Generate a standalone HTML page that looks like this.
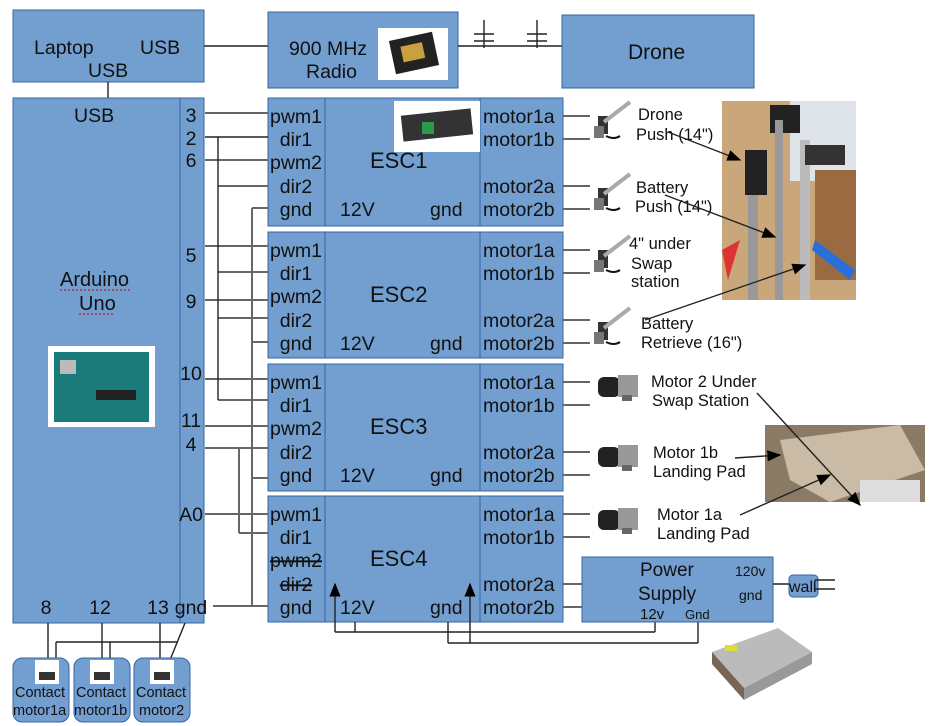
<!DOCTYPE html>
<html><head><meta charset="utf-8"><style>
html,body{margin:0;padding:0;background:#fff;width:933px;height:726px;overflow:hidden}
svg{display:block;font-family:"Liberation Sans",sans-serif}
.box{fill:#729fcf;stroke:#3465a4;stroke-width:1}
.t{font-size:19.5px;fill:#111}
.s{font-size:16.5px;fill:#111}
.w{stroke:#222;stroke-width:1.4;fill:none}
.g{stroke:#666;stroke-width:2;fill:none}
.sq{stroke:#c00;stroke-width:1;fill:none;stroke-dasharray:2 2}
</style></head><body>
<svg width="933" height="726" viewBox="0 0 933 726">
<defs>
<marker id="ar" markerWidth="10" markerHeight="10" refX="9" refY="5" orient="auto"><path d="M0,1 L10,5 L0,9 z" fill="#000"/></marker>
<g id="act"><rect x="-2" y="-8" width="10" height="18" fill="#333"/><line x1="4" y1="-2" x2="30" y2="-22" stroke="#aaa" stroke-width="4"/><rect x="-6" y="2" width="10" height="12" fill="#777"/><path d="M6 12 q8 4 14 0" stroke="#111" fill="none" stroke-width="2"/></g>
<g id="mot"><rect x="0" y="0" width="22" height="20" rx="6" fill="#222"/><rect x="20" y="-2" width="20" height="22" fill="#999"/><rect x="24" y="18" width="10" height="6" fill="#666"/></g>
</defs>

<!-- Laptop -->
<rect class="box" x="13" y="10" width="191" height="72"/>
<text class="t" x="34" y="54">Laptop</text>
<text class="t" x="140" y="54">USB</text>
<text class="t" x="88" y="77">USB</text>
<line class="w" x1="204" y1="46" x2="268" y2="46"/>
<line class="w" x1="108" y1="82" x2="108" y2="98"/>

<!-- Radio -->
<rect class="box" x="268" y="12" width="190" height="76"/>
<text class="t" x="289" y="55">900 MHz</text>
<text class="t" x="306" y="78">Radio</text>
<rect x="378" y="28" width="70" height="52" fill="#fff"/>
<rect x="392" y="36" width="44" height="34" fill="#222" transform="rotate(-12 414 53)"/>
<rect x="402" y="44" width="22" height="16" fill="#c8a040" transform="rotate(-12 414 53)"/>
<line class="w" x1="458" y1="46" x2="562" y2="46"/>
<g class="w"><line x1="484" y1="20" x2="484" y2="48"/><line x1="474" y1="34" x2="494" y2="34"/><line x1="474" y1="41" x2="494" y2="41"/>
<line x1="537" y1="20" x2="537" y2="48"/><line x1="527" y1="34" x2="547" y2="34"/><line x1="527" y1="41" x2="547" y2="41"/></g>

<!-- Drone -->
<rect class="box" x="562" y="15" width="192" height="73"/>
<text x="628" y="59" style="font-size:21px" fill="#111">Drone</text>

<!-- Arduino -->
<rect class="box" x="13" y="98" width="191" height="525"/>
<line x1="180" y1="98" x2="180" y2="623" stroke="#3465a4"/>
<text class="t" x="74" y="122">USB</text>
<text x="60" y="286" style="font-size:20px" fill="#111">Arduino</text>
<text x="79" y="310" style="font-size:20px" fill="#111">Uno</text>
<line class="sq" x1="60" y1="290" x2="131" y2="290"/><line class="sq" x1="79" y1="314" x2="115" y2="314"/>
<rect x="48" y="346" width="107" height="81" fill="#fff"/>
<rect x="54" y="352" width="95" height="70" fill="#1b7a7a"/>
<rect x="60" y="360" width="16" height="14" fill="#bbb"/><rect x="96" y="390" width="40" height="10" fill="#222"/>
<g class="t" text-anchor="middle">
<text x="191" y="122">3</text><text x="191" y="145">2</text><text x="191" y="167">6</text>
<text x="191" y="262">5</text><text x="191" y="308">9</text><text x="191" y="380">10</text>
<text x="191" y="427">11</text><text x="191" y="451">4</text><text x="191" y="521">A0</text>
<text x="191" y="614">gnd</text><text x="46" y="614">8</text><text x="100" y="614">12</text><text x="158" y="614">13</text>
</g>

<!-- ESCs -->
<g>
<rect class="box" x="268" y="98" width="295" height="128"/>
<line x1="325" y1="98" x2="325" y2="226" stroke="#3465a4"/><line x1="480" y1="98" x2="480" y2="226" stroke="#3465a4"/>
<rect x="394" y="101" width="86" height="51" fill="#fff"/><rect x="402" y="112" width="70" height="26" fill="#333" transform="rotate(-6 437 125)"/><rect x="422" y="122" width="12" height="12" fill="#2a9a4a"/>
</g>
<rect class="box" x="268" y="232" width="295" height="126"/>
<rect class="box" x="268" y="364" width="295" height="127"/>
<rect class="box" x="268" y="496" width="295" height="126"/>
<g stroke="#3465a4"><line x1="325" y1="232" x2="325" y2="358"/><line x1="480" y1="232" x2="480" y2="358"/>
<line x1="325" y1="364" x2="325" y2="491"/><line x1="480" y1="364" x2="480" y2="491"/>
<line x1="325" y1="496" x2="325" y2="622"/><line x1="480" y1="496" x2="480" y2="622"/></g>

<g class="t" style="font-size:22px">
<text x="370" y="168" style="font-size:22px">ESC1</text>
<text x="370" y="302" style="font-size:22px">ESC2</text>
<text x="370" y="434" style="font-size:22px">ESC3</text>
<text x="370" y="566" style="font-size:22px">ESC4</text>
</g>

<!-- Wires Arduino -> ESC -->
<g class="g">
<line x1="205" y1="113" x2="268" y2="113"/><line x1="205" y1="160" x2="268" y2="160"/>
<line x1="205" y1="246" x2="268" y2="246"/><line x1="205" y1="300" x2="268" y2="300"/>
<line x1="205" y1="379" x2="268" y2="379"/><line x1="205" y1="426" x2="268" y2="426"/>
<line x1="205" y1="514" x2="268" y2="514"/>
<line x1="218" y1="186" x2="268" y2="186"/><line x1="218" y1="272" x2="268" y2="272"/>
<line x1="218" y1="318" x2="268" y2="318"/><line x1="218" y1="400" x2="268" y2="400"/>
<line x1="205" y1="448" x2="268" y2="448"/><line x1="239" y1="533" x2="268" y2="533"/>
<line x1="252" y1="208" x2="268" y2="208"/><line x1="252" y1="342" x2="268" y2="342"/>
<line x1="252" y1="478" x2="268" y2="478"/><line x1="213" y1="606" x2="268" y2="606"/>
<line x1="252" y1="208" x2="252" y2="606"/><line x1="239" y1="448" x2="239" y2="533"/>
</g>
<g class="w"><line x1="205" y1="137" x2="268" y2="137"/><line x1="218" y1="137" x2="218" y2="400"/></g>

<!-- Power arrows -->
<g class="w">
<line x1="335" y1="632" x2="335" y2="584" marker-end="url(#ar)"/>
<line x1="335" y1="632" x2="655" y2="632"/><line x1="355" y1="622" x2="355" y2="632"/><line x1="655" y1="622" x2="655" y2="632"/>
<line x1="470" y1="643" x2="470" y2="584" marker-end="url(#ar)"/>
<line x1="448" y1="622" x2="448" y2="643"/><line x1="448" y1="643" x2="698" y2="643"/><line x1="698" y1="622" x2="698" y2="643"/>
</g>

<g id="escLabels"></g>
<g id="motorWires" class="g"></g>

<!-- Power supply -->
<rect class="box" x="582" y="557" width="191" height="65"/>
<text x="640" y="576" style="font-size:19px" fill="#111">Power</text>
<text x="638" y="600" style="font-size:19px" fill="#111">Supply</text>
<text x="640" y="619" style="font-size:15px" fill="#111">12v</text>
<text x="685" y="619" style="font-size:13px" fill="#111">Gnd</text>
<text x="735" y="576" style="font-size:14px" fill="#111">120v</text>
<text x="739" y="600" style="font-size:14px" fill="#111">gnd</text>
<line class="w" x1="773" y1="584" x2="790" y2="584"/>
<rect class="box" x="789" y="575" width="29" height="22" rx="4"/>
<text x="789" y="592" style="font-size:16px" fill="#111">wall</text>
<line class="w" x1="815" y1="580" x2="835" y2="580"/><line class="w" x1="815" y1="589" x2="835" y2="589"/>
<g>
<polygon points="712,652 778,628 812,652 744,688" fill="#bbb"/><polygon points="712,652 744,688 744,700 712,664" fill="#765"/>
<polygon points="744,688 812,652 812,664 744,700" fill="#999"/><rect x="725" y="645" width="12" height="6" fill="#dd3"/>
</g>

<!-- Contacts -->
<g class="w"><line x1="48" y1="623" x2="48" y2="660"/><line x1="102" y1="623" x2="102" y2="660"/><line x1="160" y1="623" x2="160" y2="660"/>
<line x1="56" y1="642" x2="56" y2="660"/><line x1="56" y1="642" x2="178" y2="642"/><line x1="110" y1="642" x2="110" y2="660"/>
<line x1="185" y1="623" x2="170" y2="660"/></g>
<g><rect class="box" x="13" y="658" width="56" height="64" rx="9"/><rect x="35" y="660" width="24" height="24" fill="#fff"/><rect x="39" y="672" width="16" height="8" fill="#333"/>
<text x="15" y="697" style="font-size:14.5px" fill="#111">Contact</text><text x="13" y="715" style="font-size:14.5px" fill="#111">motor1a</text></g>
<g><rect class="box" x="74" y="658" width="56" height="64" rx="9"/><rect x="90" y="660" width="24" height="24" fill="#fff"/><rect x="94" y="672" width="16" height="8" fill="#333"/>
<text x="76" y="697" style="font-size:14.5px" fill="#111">Contact</text><text x="74" y="715" style="font-size:14.5px" fill="#111">motor1b</text></g>
<g><rect class="box" x="134" y="658" width="56" height="64" rx="9"/><rect x="150" y="660" width="24" height="24" fill="#fff"/><rect x="154" y="672" width="16" height="8" fill="#333"/>
<text x="136" y="697" style="font-size:14.5px" fill="#111">Contact</text><text x="139" y="715" style="font-size:14.5px" fill="#111">motor2</text></g>

<!-- Actuators -->
<use href="#act" x="600" y="124"/><use href="#act" x="600" y="196"/><use href="#act" x="600" y="258"/><use href="#act" x="600" y="330"/>
<g class="s">
<text x="638" y="120">Drone</text><text x="636" y="140">Push (14")</text>
<text x="636" y="193">Battery</text><text x="635" y="212">Push (14")</text>
<text x="629" y="249">4" under</text><text x="631" y="269">Swap</text><text x="631" y="287">station</text>
<text x="641" y="329">Battery</text><text x="641" y="348">Retrieve (16")</text>
</g>
<use href="#mot" x="598" y="377"/><use href="#mot" x="598" y="447"/><use href="#mot" x="598" y="510"/>
<g class="s">
<text x="651" y="387">Motor 2 Under</text><text x="652" y="406">Swap Station</text>
<text x="653" y="458">Motor 1b</text><text x="653" y="477">Landing Pad</text>
<text x="657" y="520">Motor 1a</text><text x="657" y="539">Landing Pad</text>
</g>

<!-- Photos -->
<g>
<rect x="722" y="101" width="134" height="199" fill="#c9a77a"/>
<rect x="790" y="101" width="66" height="80" fill="#dfe4ea"/><rect x="815" y="170" width="41" height="110" fill="#9a6a40"/>
<rect x="770" y="105" width="30" height="28" fill="#222"/><rect x="775" y="120" width="8" height="180" fill="#999"/>
<rect x="745" y="150" width="22" height="45" fill="#222"/><rect x="748" y="195" width="10" height="105" fill="#999"/>
<rect x="800" y="140" width="10" height="160" fill="#bbb"/><rect x="805" y="145" width="40" height="20" fill="#333"/>
<polygon points="815,240 855,270 850,280 812,250" fill="#2b6fd6"/><polygon points="722,250 740,240 728,280" fill="#d33"/>
</g>
<g>
<rect x="765" y="425" width="160" height="77" fill="#8a7a66"/>
<polygon points="780,440 900,425 925,470 830,502 790,480" fill="#c9bba5"/>
<rect x="860" y="480" width="60" height="22" fill="#ddd"/>
</g>
<g class="w" stroke-width="1">
<line x1="668" y1="132" x2="740" y2="160" marker-end="url(#ar)"/>
<line x1="665" y1="195" x2="775" y2="237" marker-end="url(#ar)"/>
<line x1="645" y1="320" x2="805" y2="265" marker-end="url(#ar)"/>
<line x1="757" y1="393" x2="860" y2="505" marker-end="url(#ar)"/>
<line x1="735" y1="458" x2="780" y2="455" marker-end="url(#ar)"/>
<line x1="740" y1="515" x2="830" y2="475" marker-end="url(#ar)"/>
</g>

<script>
const escTops = [98, 232, 364, 496];
const leftPins = ["pwm1", "dir1", "pwm2", "dir2", "gnd"];
const rightPins = ["motor1a", "motor1b", "motor2a", "motor2b"];
const rowOffsets = [18, 41, 64, 88, 111];
const rightOffsets = [18, 41, 88, 111];
const NS = "http://www.w3.org/2000/svg";
const lab = document.getElementById("escLabels");
const mw = document.getElementById("motorWires");
escTops.forEach((top, e) => {
  leftPins.forEach((p, i) => {
    const t = document.createElementNS(NS, "text");
    t.setAttribute("x", 296); t.setAttribute("y", top + rowOffsets[i] + 7);
    t.setAttribute("text-anchor", "middle"); t.setAttribute("class", "t");
    if (e === 3 && (i === 2 || i === 3)) t.setAttribute("text-decoration", "line-through");
    t.textContent = p;
    
    
    lab.appendChild(t);
  });
  rightPins.forEach((p, i) => {
    const t = document.createElementNS(NS, "text");
    t.setAttribute("x", 483); t.setAttribute("y", top + rightOffsets[i] + 7);
    t.setAttribute("class", "t"); t.textContent = p;
    
    
    lab.appendChild(t);
    const l = document.createElementNS(NS, "line");
    l.setAttribute("x1", 563); l.setAttribute("x2", 590);
    l.setAttribute("y1", top + rightOffsets[i]); l.setAttribute("y2", top + rightOffsets[i]);
    
    
    mw.appendChild(l);
  });
  [[340, "12V"], [430, "gnd"]].forEach(([x, s]) => {
    const t = document.createElementNS(NS, "text");
    t.setAttribute("x", x); t.setAttribute("y", top + 118); t.setAttribute("class", "t");
    t.textContent = s;
    
    
    lab.appendChild(t);
  });
});
</script>
</svg>
</body></html>
